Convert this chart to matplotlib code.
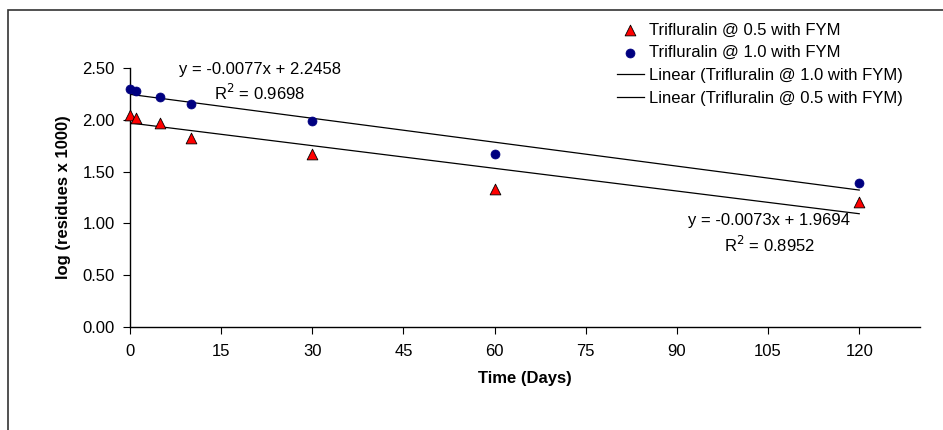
import numpy as np
import matplotlib
matplotlib.use("Agg")
import matplotlib.pyplot as plt
from matplotlib.patches import Rectangle

plt.rcParams['font.family'] = ['Liberation Sans', 'DejaVu Sans']

days = [0, 1, 5, 10, 30, 60, 120]
rate_05 = [2.05, 2.02, 1.97, 1.82, 1.67, 1.335, 1.21]
rate_10 = [2.30, 2.28, 2.22, 2.15, 1.99, 1.67, 1.39]

# linear trend coefficients (slope, intercept, R^2)
fit_10 = (-0.0077, 2.2458, 0.9698)
fit_05 = (-0.0073, 1.9694, 0.8952)

x_ticks = [0, 15, 30, 45, 60, 75, 90, 105, 120]
y_ticks = [0.0, 0.5, 1.0, 1.5, 2.0, 2.5]

fs = 12

fig = plt.figure(figsize=(9.43, 4.30), dpi=100)
ax = fig.add_axes([130/943, 1 - 327/430, (920 - 130)/943, (327 - 68)/430])

# chart-area border, runs off the right and bottom edges
fig.patches.append(Rectangle((8/943, -0.1), 1.2, 1 - 10/430 + 0.1,
                             transform=fig.transFigure, fill=False,
                             edgecolor='#333333', linewidth=1.2, zorder=0))

ax.scatter(days, rate_05, marker='^', s=60, color='#ff0000', edgecolor='black',
           linewidth=0.6, zorder=3, clip_on=False, label='Trifluralin @ 0.5 with FYM')
ax.scatter(days, rate_10, marker='o', s=42, color='#000080', edgecolor='#000080',
           linewidth=0.5, zorder=3, clip_on=False, label='Trifluralin @ 1.0 with FYM')

xt = np.array([0, 120])
ax.plot(xt, fit_10[0]*xt + fit_10[1], color='black', linewidth=0.9,
        label='Linear (Trifluralin @ 1.0 with FYM)')
ax.plot(xt, fit_05[0]*xt + fit_05[1], color='black', linewidth=0.9,
        label='Linear (Trifluralin @ 0.5 with FYM)')

def eq_text(fit):
    return 'y = %.4fx + %.4f' % (fit[0], fit[1])

ax.text(21.4, 2.485, eq_text(fit_10), ha='center', va='center', fontsize=fs)
ax.text(21.4, 2.26, 'R$^2$ = %.4f' % fit_10[2], ha='center', va='center', fontsize=fs)
ax.text(105.2, 1.03, eq_text(fit_05), ha='center', va='center', fontsize=fs)
ax.text(105.3, 0.79, 'R$^2$ = %.4f' % fit_05[2], ha='center', va='center', fontsize=fs)

ax.set_xlim(0, 130)
ax.set_ylim(0, 2.5)
ax.set_xticks(x_ticks)
ax.set_yticks(y_ticks)
ax.set_yticklabels(['%.2f' % v for v in y_ticks])
ax.tick_params(direction='out', length=5, width=0.8, labelsize=fs, pad=6)
ax.tick_params(axis='x', pad=7.5)
ax.spines['top'].set_visible(False)
ax.spines['right'].set_visible(False)
for s in ('left', 'bottom'):
    ax.spines[s].set_linewidth(1.0)
ax.spines['left'].set_bounds(0, 2.5)

ax.set_xlabel('Time (Days)', fontsize=fs, fontweight='bold', labelpad=8.5)
ax.set_ylabel('log (residues x 1000)', fontsize=fs, fontweight='bold', labelpad=8)

ax.legend(loc='upper left', bbox_to_anchor=(617/943, 1 - 22.5/430),
          bbox_transform=fig.transFigure, frameon=False, fontsize=fs,
          handlelength=1.6, handletextpad=0.3, labelspacing=0.47,
          borderaxespad=0, borderpad=0, scatterpoints=1)

fig.savefig('out.png', dpi=100)
